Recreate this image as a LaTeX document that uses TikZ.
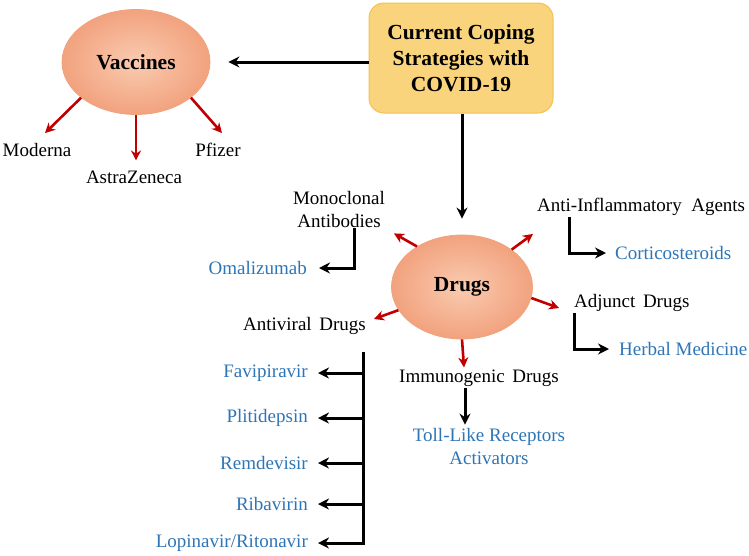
\documentclass[tikz,border=0pt]{standalone}
\usepackage{fontspec}
\setmainfont{Liberation Serif}
\usetikzlibrary{shapes.geometric,arrows.meta,calc}
\definecolor{blu}{HTML}{2E75B6}
\definecolor{redarr}{HTML}{C00000}
\definecolor{boxfill}{HTML}{FAD47C}
\definecolor{boxline}{HTML}{F3C14E}
\definecolor{ellin}{HTML}{F9CBB0}
\definecolor{ellout}{HTML}{F2A27E}
\definecolor{ellline}{HTML}{F0A47E}
\tikzset{
  lbl/.style={inner sep=1pt, font=\fontsize{19}{23}\selectfont},
  blbl/.style={lbl, text=blu},
  hdr/.style={font=\fontsize{21.5}{26}\selectfont\bfseries},
  oval/.style={ellipse, draw=ellline, line width=0.8pt, inner color=ellin, outer color=ellout, inner sep=0pt, hdr},
  redarrow/.style={draw=redarr, line width=2.6pt, -{Stealth[length=10pt,width=10pt]}},
  blkarrow/.style={draw=black, line width=3pt, -{Stealth[length=11pt,width=11pt]}},
  blkline/.style={draw=black, line width=3pt},
}
\begin{document}
\begin{tikzpicture}[x=1pt,y=-1pt]
\useasboundingbox (0,0) rectangle (749,555);
% main nodes
\node[draw=boxline, line width=1pt, fill=boxfill, rounded corners=15pt, minimum width=184pt, minimum height=110pt, align=center, hdr] (box) at (461,58) {Current Coping\\Strategies with\\COVID-19};
\node[oval, minimum width=148pt, minimum height=105pt] (vac) at (136,62) {Vaccines};
\node[oval, minimum width=141pt, minimum height=104pt] (drugs) at (462,287) {Drugs};
% vaccine labels
\node[lbl] (moderna) at (37,150) {Moderna};
\node[lbl] (astra) at (134,177) {AstraZeneca};
\node[lbl] (pfizer) at (218,150) {Pfizer};
% drug labels
\node[lbl, align=center] (mono) at (339,209) {Monoclonal\\Antibodies};
\node[blbl, anchor=east] (omal) at (308,268) {Omalizumab};
\node[lbl, anchor=west] (anti) at (536,207) {Anti-Inflammatory\hspace{0.5em}Agents};
\node[blbl, anchor=west] (cort) at (614,253) {Corticosteroids};
\node[lbl, anchor=west] (adj) at (573,303) {Adjunct\hspace{0.4em}Drugs};
\node[blbl, anchor=west] (herb) at (618,349) {Herbal Medicine};
\node[lbl, anchor=east] (antiv) at (367,326) {Antiviral\hspace{0.4em}Drugs};
\node[lbl] (immu) at (479,378) {Immunogenic\hspace{0.4em}Drugs};
\node[blbl, align=center] (toll) at (489,446) {Toll-Like Receptors\\Activators};
\node[blbl, anchor=east] (fav) at (309,373) {Favipiravir};
\node[blbl, anchor=east] (pli) at (309,418) {Plitidepsin};
\node[blbl, anchor=east] (rem) at (309,463) {Remdevisir};
\node[blbl, anchor=east] (rib) at (309,504) {Ribavirin};
\node[blbl, anchor=east] (lop) at (309,543) {Lopinavir/Ritonavir};
% black main arrows
\coordinate (vacend) at ($(vac.east)+(18,0)$);
\draw[blkarrow] (vacend -| box.west) -- (vacend);
\coordinate (drtop) at ($(drugs.north)+(0,-16)$);
\draw[blkarrow] (drtop |- box.south) -- (drtop);
% red arrows from vaccines
\draw[redarrow] (vac.213) -- ($(moderna.north)+(8,-9)$);
\draw[redarrow] (vac.south) -- ($(astra.north)+(2,-9)$);
\draw[redarrow] (vac.327) -- ($(pfizer.north)+(4,-9)$);
% red arrows from drugs
\draw[redarrow] (drugs.138) -- ($(mono.south)+(55,5)$);
\draw[redarrow] (drugs.37) -- ($(anti.south west)+(-3,17)$);
\draw[redarrow] (drugs.-9) -- ($(adj.west)+(-14,5)$);
\draw[redarrow] (drugs.200) -- ($(antiv.east)+(7,-7)$);
\draw[redarrow] (drugs.south) -- ($(immu.north)+(-15,-1)$);
% brackets
\draw[blkarrow, shorten >=11pt] ($(mono.south)+(15,0)$) |- (omal.east);
\draw[blkarrow, shorten >=8pt] ($(anti.south west)+(33,0)$) |- (cort.west);
\draw[blkarrow, shorten >=9pt] ($(adj.south west)+(1,0)$) |- (herb.west);
\coordinate (avtop) at (363,352);
\coordinate (avbot) at (363,545);
\draw[blkline] (avtop) -- (avbot);
\foreach \n in {fav,pli,rem,rib,lop}{
  \draw[blkarrow, shorten >=9pt] (\n.east -| avtop) -- (\n.east);
}
\draw[blkarrow, shorten >=2pt] ($(immu.south)+(-14,0)$) -- ($(toll.north)+(-24,0)$);
\end{tikzpicture}
\end{document}
